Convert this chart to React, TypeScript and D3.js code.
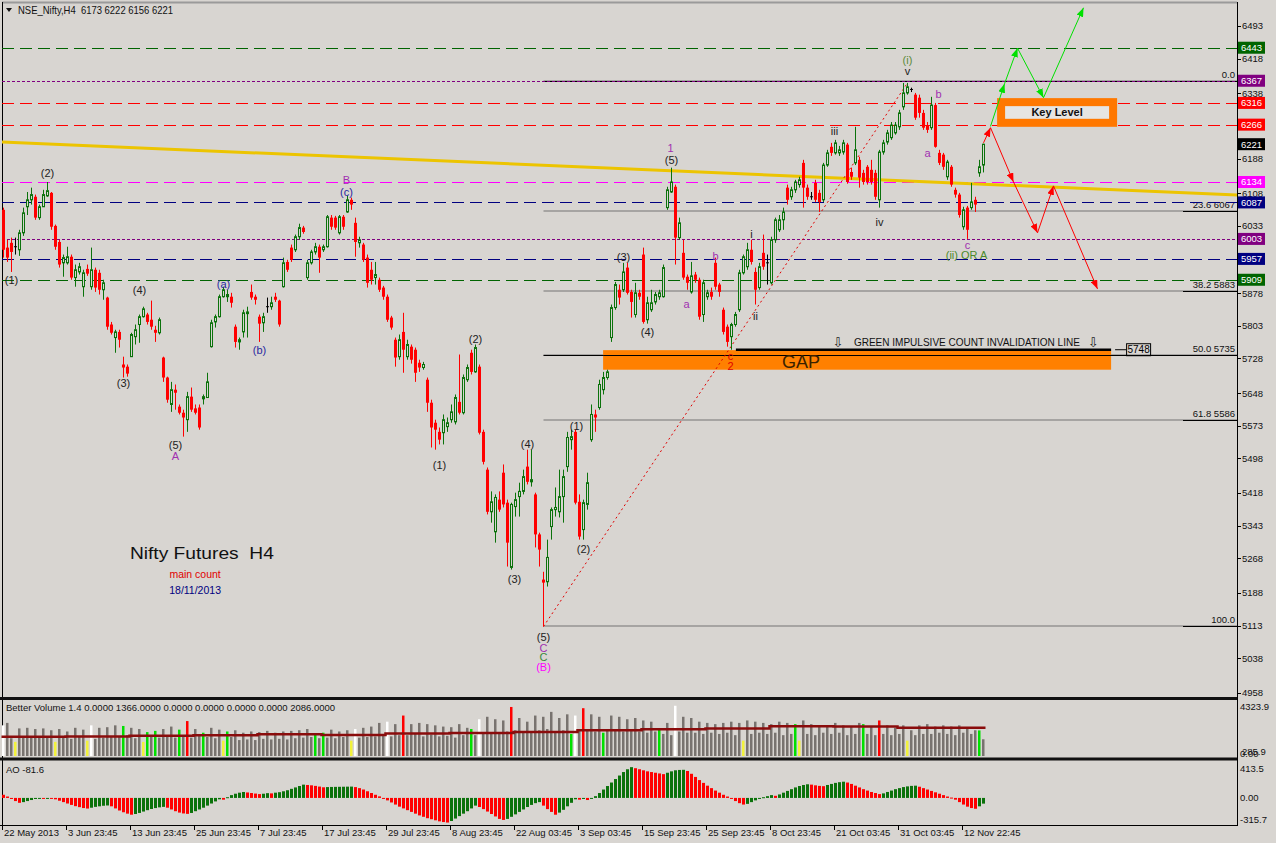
import React from 'react';
import * as d3 from 'd3';

const W = 1276;
const H = 843;
const BG = '#d8d5d1';
const FONT = 'Liberation Sans, Arial, sans-serif';

// OHLC per H4 bar: [open, high, low, close]
const candles: number[][] = [
[6070,6075,5960,5978],[5983,6001,5950,5960],[5994,6006,5927,5973],[5983,6006,5967,5985],[5978,6024,5964,6017],
[6017,6075,6010,6063],[6077,6111,6058,6093],[6093,6121,6082,6105],[6100,6105,6047,6052],[6052,6082,6047,6077],
[6077,6116,6077,6105],[6102,6134,6100,6114],[6109,6111,6024,6031],[6033,6036,5978,5985],[5996,6001,5937,5944],
[5948,5967,5916,5960],[5948,5985,5944,5962],[5962,5967,5909,5914],[5914,5944,5893,5932],[5927,5948,5921,5939],
[5893,5932,5870,5925],[5934,5944,5918,5923],[5893,5983,5886,5932],[5932,5937,5881,5891],[5925,5932,5875,5886],
[5886,5909,5863,5902],[5868,5870,5794,5801],[5806,5812,5783,5787],[5776,5794,5741,5789],[5789,5794,5753,5771],
[5714,5732,5684,5707],[5709,5714,5686,5693],[5732,5787,5732,5783],[5778,5806,5760,5794],[5806,5829,5764,5824],
[5824,5847,5822,5842],[5829,5833,5806,5812],[5817,5861,5794,5801],[5794,5803,5766,5787],[5787,5822,5783,5817],
[5730,5732,5674,5684],[5684,5686,5626,5633],[5622,5674,5605,5656],[5656,5668,5610,5649],[5617,5622,5599,5603],
[5603,5610,5548,5592],[5587,5651,5559,5640],[5640,5661,5605,5610],[5613,5622,5599,5603],[5615,5622,5564,5569],
[5635,5645,5622,5640],[5638,5695,5638,5674],[5755,5817,5753,5810],[5812,5829,5799,5824],[5824,5875,5822,5870],
[5870,5893,5868,5886],[5870,5886,5858,5875],[5870,5879,5845,5856],[5801,5806,5753,5766],[5766,5776,5748,5771],
[5789,5840,5776,5833],[5831,5847,5776,5835],[5881,5898,5863,5868],[5870,5875,5852,5863],[5824,5829,5766,5808],
[5810,5833,5789,5824],[5847,5868,5833,5845],[5847,5870,5840,5856],[5870,5879,5858,5863],[5861,5863,5801,5806],
[5893,5960,5891,5948],[5950,5955,5927,5932],[5983,5990,5950,5955],[5978,6013,5973,6008],[6008,6038,6001,6029],
[6029,6033,6015,6019],[5914,5955,5909,5948],[5948,5978,5944,5973],[5973,5994,5967,5985],[5985,5990,5925,5960],
[5978,5990,5973,5985],[5985,6058,5983,6054],[6052,6058,6024,6031],[6052,6056,6024,6029],[6017,6058,6013,6054],
[6054,6058,6024,6031],[6065,6102,6063,6093],[6093,6098,6070,6082],[6040,6052,5962,5996],[5994,6008,5983,6001],
[5990,5994,5950,5955],[5960,5967,5891,5902],[5932,5950,5898,5909],[5914,5950,5898,5921],[5909,5914,5881,5886],
[5891,5895,5863,5870],[5870,5875,5812,5817],[5822,5826,5794,5799],[5771,5776,5709,5730],[5732,5783,5725,5771],
[5789,5833,5695,5748],[5732,5771,5725,5760],[5755,5760,5716,5725],[5748,5753,5674,5695],[5718,5725,5697,5707],
[5707,5720,5702,5714],[5679,5684,5605,5626],[5626,5633,5523,5569],[5580,5587,5518,5564],[5559,5569,5530,5541],
[5557,5599,5530,5587],[5571,5592,5559,5580],[5587,5622,5580,5605],[5582,5645,5576,5638],[5628,5737,5599,5603],
[5603,5691,5599,5684],[5679,5714,5674,5707],[5741,5748,5691,5697],[5697,5760,5695,5753],[5709,5714,5553,5557],
[5559,5564,5484,5490],[5472,5477,5369,5375],[5375,5422,5350,5398],[5329,5415,5304,5408],[5403,5422,5375,5380],
[5465,5484,5385,5392],[5396,5403,5249,5304],[5247,5396,5242,5392],[5387,5419,5364,5403],[5410,5442,5364,5422],
[5422,5472,5415,5456],[5479,5518,5438,5444],[5444,5518,5433,5449],[5415,5419,5293,5323],[5323,5327,5249,5288],
[5219,5237,5111,5212],[5214,5311,5203,5270],[5341,5385,5311,5380],[5380,5431,5364,5385],[5375,5472,5362,5410],
[5410,5472,5350,5456],[5479,5559,5467,5546],[5541,5564,5518,5548],[5559,5564,5392,5396],[5398,5415,5311,5318],
[5334,5403,5311,5396],[5392,5465,5380,5442],[5541,5622,5536,5599],[5599,5610,5559,5592],[5615,5679,5610,5668],
[5656,5697,5645,5684],[5684,5702,5679,5697],[5776,5852,5766,5845],[5845,5904,5840,5898],[5886,5898,5852,5868],
[5886,5948,5881,5927],[5937,5948,5875,5879],[5881,5886,5822,5858],[5829,5902,5822,5879],[5879,5886,5863,5870],
[5967,5983,5808,5812],[5817,5870,5808,5856],[5840,5886,5835,5856],[5858,5881,5852,5875],[5870,5886,5863,5879],
[5870,5944,5868,5937],[6075,6123,6070,6116],[6111,6167,6109,6134],[6123,6128,5944,6006],[6006,6052,6001,6040],
[5971,6001,5909,5914],[5916,5921,5886,5902],[5881,5950,5877,5918],[5921,5927,5902,5909],[5909,5914,5817,5824],
[5829,5909,5812,5902],[5870,5886,5863,5879],[5881,5891,5863,5870],[5948,5960,5886,5893],[5898,5902,5870,5881],
[5840,5845,5783,5789],[5801,5806,5755,5766],[5778,5810,5748,5806],[5806,5835,5801,5829],[5840,5932,5835,5925],
[5925,5967,5921,5962],[5939,5994,5932,5978],[5978,6001,5944,5950],[5927,5937,5852,5886],[5891,5948,5886,5939],
[5971,6013,5932,5939],[5948,5967,5898,5946],[5902,6008,5898,6001],[6001,6052,5994,6047],[6024,6058,6019,6047],
[6047,6075,6024,6065],[6121,6128,6082,6093],[6100,6123,6093,6116],[6116,6139,6109,6134],[6128,6146,6121,6139],
[6178,6185,6075,6121],[6121,6128,6093,6100],[6100,6111,6093,6100],[6132,6139,6088,6093],[6109,6116,6065,6088],
[6093,6178,6088,6173],[6173,6208,6169,6201],[6215,6224,6194,6201],[6201,6231,6197,6224],[6201,6217,6194,6208],
[6203,6231,6197,6224],[6220,6224,6130,6134],[6157,6167,6139,6146],[6178,6261,6173,6208],[6185,6192,6121,6144],
[6155,6162,6128,6134],[6169,6173,6128,6134],[6162,6185,6128,6134],[6155,6162,6093,6100],[6093,6208,6075,6203],
[6203,6231,6197,6224],[6226,6254,6220,6247],[6236,6272,6231,6265],[6247,6272,6243,6265],[6261,6300,6254,6293],
[6307,6362,6300,6339],[6339,6362,6335,6353],[6346,6351,6341,6347],[6335,6339,6277,6282],[6328,6335,6282,6293],
[6293,6300,6254,6259],[6265,6272,6247,6254],[6259,6330,6254,6311],[6311,6316,6213,6215],[6201,6208,6173,6178],
[6197,6201,6162,6169],[6146,6185,6139,6180],[6169,6173,6123,6128],[6116,6121,6098,6105],[6105,6109,6052,6058],
[6031,6077,6024,6070],[6075,6079,6003,6024],[6075,6132,6070,6088],[6093,6100,6065,6082],[6155,6185,6146,6169],
[6173,6222,6156,6221]
];

const volumes: number[] = [
2500,2700,1450,1150,2250,1500,2300,1550,2200,1600,2250,1500,2100,1150,2200,1550,
2000,1400,2300,1600,2150,1250,2500,1400,2300,1500,2350,1600,2500,1550,2450,1700,
2300,1450,2200,1150,1950,1600,2050,1500,2200,1650,2400,1500,2150,1600,2850,1500,
2200,1650,1900,1550,2300,1450,2150,1250,2000,1550,2100,1300,1900,1350,2000,1300,
1950,1400,2050,1350,1900,1400,2000,1350,2050,1450,2100,1500,2200,1550,1750,1450,
1900,1500,2150,1450,2000,1550,2100,1250,2200,1500,2300,1550,2400,1600,2700,1650,
2800,1600,2600,1700,3300,1700,2600,1800,2700,1600,2600,1750,2500,1600,2400,1650,
2350,1500,2600,1700,2300,2200,1700,3000,1900,3200,1800,3000,1900,2900,2000,4000,
2100,3100,1900,2800,2000,3300,2100,3200,2200,3600,2000,3100,2100,3400,1800,3300,
2100,3900,2100,3400,2000,3200,1900,2200,3300,2100,3200,2000,3000,2200,3100,2000,
2900,1900,2800,2000,2200,1800,2700,1700,4100,2000,3200,1900,3100,1900,2800,1800,
2700,1900,2600,1800,2700,1900,2800,1700,2700,1250,2900,1800,2800,1900,2700,1800,
2600,1900,2800,1700,2700,1800,2600,1250,2900,1800,2600,1700,2500,1900,2400,1800,
2700,1900,2500,1700,2400,1800,2700,2600,1800,2400,1700,2900,1800,2500,1700,2300,
1800,2500,1250,2100,1700,2500,1800,2600,1800,2400,1900,2500,1800,2400,1700,2500,
1900,2300,1800,2100,2086,1366
];

const volWhite = [0, 22, 88, 96, 119, 143, 168];
const volYellow = [3, 13, 21, 35, 55, 87, 185, 199, 226];
const volGreen = [30, 36, 38, 44, 50, 56, 78, 80, 117, 142, 150, 164, 198, 215, 244];
const volRed = [46, 100, 127, 145, 219];

// average volume per 16-bar block
const volAvg = [1572, 1600, 1650, 1700, 1780, 1720, 1835, 1870, 1950, 2100, 2175, 2250, 2437, 2400, 2300, 2300];

const aoValues: number[] = [
45,20,-15,-45,-70,-60,-45,-30,-15,-5,-8,-2,-6,-20,-40,-60,
-80,-100,-118,-132,-145,-152,-140,-128,-120,-112,-108,-120,-150,-180,-205,-225,
-240,-230,-215,-195,-175,-158,-145,-135,-128,-140,-165,-190,-210,-222,-228,-215,
-190,-165,-140,-110,-80,-50,-20,-25,10,40,60,75,85,78,70,62,
55,60,68,65,75,82,95,110,130,150,170,190,185,180,172,162,
152,155,157,158,159,160,161,162,155,140,120,95,70,45,22,-5,
-35,-65,-95,-125,-150,-175,-200,-225,-250,-270,-290,-305,-320,-335,-345,-352,
-330,-295,-260,-225,-190,-150,-110,-130,-160,-195,-230,-265,-300,-315,-300,-270,
-235,-200,-165,-130,-100,-75,-60,-110,-160,-200,-240,-210,-170,-120,-70,-20,
-25,-15,-30,-5,25,70,120,170,220,270,320,370,410,440,425,410,
395,380,370,360,350,340,360,380,395,400,402,385,345,300,255,215,
175,140,105,75,45,20,-10,-45,-75,-95,-85,-60,-35,-10,10,25,
40,30,50,75,100,125,150,170,185,195,190,180,172,168,185,200,
215,225,232,220,200,175,150,125,105,85,70,55,65,85,105,125,
140,155,165,172,175,160,140,120,100,80,60,40,20,5,-25,-60,
-95,-125,-145,-155,-120,-81.6
];

const xLabels = ['22 May 2013', '3 Jun 23:45', '13 Jun 23:45', '25 Jun 23:45', '7 Jul 23:45', '17 Jul 23:45',
  '29 Jul 23:45', '8 Aug 23:45', '22 Aug 03:45', '3 Sep 03:45', '15 Sep 23:45', '25 Sep 23:45',
  '8 Oct 23:45', '21 Oct 03:45', '31 Oct 03:45', '12 Nov 22:45'];

const priceTicks = [6493, 6418, 6338, 6188, 6108, 6033, 5878, 5803, 5728, 5648, 5573, 5498, 5418, 5343, 5268, 5188, 5113, 5038, 4958];

const levelPrices = [6443, 6367, 6316, 6266, 6134, 6087, 6003, 5957, 5909];
const levelColors = ['#006400', '#800080', '#ff0000', '#ff0000', '#ff00ff', '#000080', '#800080', '#000080', '#006400'];
const levelDash = ['12,6', '3,2', '12,6', '12,6', '12,6', '12,6', '3,2', '12,6', '12,6'];

const fibRatios = ['0.0', '23.6 6067', '38.2 5883', '50.0 5735', '61.8 5586', '100.0'];
const fibPrices = [6367, 6067, 5883, 5735, 5586, 5113];

// trend line endpoints [bar index, price]
const yellowLine = [[-0.375, 6226], [308.4, 6104]];
const waveLine = [[135, 5111], [226, 6362]];

const greenPath = [[246.75, 6262], [250.25, 6360], [253.5, 6442], [260, 6328], [270, 6535]];
const redPath = [[245, 6224], [246.75, 6259], [252.5, 6134], [258.5, 6017], [262.5, 6125], [273.5, 5888]];

// wave labels: [bar, price, text, color]
const waveLabels: [number, number, string, string][] = [
  [2, 5907, '(1)', '#222'], [11, 6155, '(2)', '#222'], [30, 5670, '(3)', '#222'], [34, 5884, '(4)', '#222'],
  [43, 5529, '(5)', '#222'], [43, 5503, 'A', '#a030b0'], [55, 5898, '(a)', '#2828a0'], [64, 5746, '(b)', '#2828a0'],
  [85.75, 6139, 'B', '#a030b0'], [85.75, 6111, '(c)', '#2828a0'], [109, 5483, '(1)', '#222'], [118, 5773, '(2)', '#222'],
  [127.75, 5221, '(3)', '#222'], [131, 5530, '(4)', '#222'], [135, 5086, '(5)', '#222'], [135, 5062, 'C', '#a030b0'],
  [135, 5041, 'C', '#3a8a3a'], [135, 5017, '(B)', '#ff00ff'], [143.25, 5573, '(1)', '#222'], [145, 5290, '(2)', '#222'],
  [155, 5960, '(3)', '#222'], [161, 5789, '(4)', '#222'], [166.75, 6212, '1', '#a030b0'], [167, 6185, '(5)', '#222'],
  [170.75, 5854, 'a', '#a030b0'], [178, 5964, 'b', '#a030b0'], [181.75, 5733, 'c', '#e00000'], [181.75, 5711, '2', '#e00000'],
  [187, 6015, 'i', '#222'], [188, 5826, 'ii', '#222'], [207.75, 6252, 'iii', '#222'], [219, 6042, 'iv', '#222'],
  [226, 6415, '(i)', '#5a8a3a'], [226, 6388, 'v', '#222'], [233.75, 6337, 'b', '#a030b0'], [231, 6201, 'a', '#a030b0'],
  [241, 5989, 'c', '#a030b0'], [240.75, 5966, '(ii) OR A', '#4a8a2a']
];

const gapBox = [149.9, 276.9, 5747, 5702];
const invalidLine = [183.1, 276.9, 5748];
const keyBox = [248.4, 278.4, 6327, 6261];

export default function App() {
  const x = d3.scaleLinear().domain([0, 245]).range([3.5, 983.5]);
  const y = d3.scaleLinear().domain([4958, 6493]).range([693, 26]);
  const yv = d3.scaleLinear().domain([0, 4323.9]).range([756, 703]);
  const ya = d3.scaleLinear().domain([-315.7, 413.5]).range([820, 769]);
  const AX = 1237;

  const volColor = (i: number) =>
    volRed.includes(i) ? '#ff0000' : volGreen.includes(i) ? '#00e000' : volYellow.includes(i) ? '#f2f23c' : volWhite.includes(i) ? '#ffffff' : '#78736f';

  const avgPts: [number, number][] = [];
  volAvg.forEach((v, k) => {
    avgPts.push([x(k * 16) - 2, yv(v)]);
  });
  avgPts.push([x(245) + 2, yv(volAvg[volAvg.length - 1])]);
  const avgPath = d3.line().curve(d3.curveStepAfter)(avgPts) || '';

  const kx0 = x(keyBox[0]), kx1 = x(keyBox[1]), ky0 = y(keyBox[2]), ky1 = y(keyBox[3]);
  const gx0 = x(gapBox[0]), gx1 = x(gapBox[1]);

  return (
    <svg width={W} height={H} style={{ position: 'absolute', left: 0, top: 0, background: BG }} fontFamily={FONT}>
      <defs>
        <marker id="ag" markerWidth="9" markerHeight="7" refX="9" refY="3.5" orient="auto" markerUnits="userSpaceOnUse">
          <path d="M0,0 L9,3.5 L0,7 z" fill="#00e000" />
        </marker>
        <marker id="ar" markerWidth="9" markerHeight="7" refX="9" refY="3.5" orient="auto" markerUnits="userSpaceOnUse">
          <path d="M0,0 L9,3.5 L0,7 z" fill="#ff0000" />
        </marker>
        <clipPath id="main"><rect x={2} y={2} width={AX - 2} height={695} /></clipPath>
      </defs>
      <rect x={0} y={0} width={W} height={H} fill={BG} />

      {/* frame */}
      <line x1={2} x2={AX} y1={2.5} y2={2.5} stroke="#9a9a9a" strokeWidth={2} />
      <line x1={2.5} x2={2.5} y1={2} y2={826} stroke="#000" />
      <line x1={AX + 0.5} x2={AX + 0.5} y1={2} y2={826} stroke="#000" />
      <line x1={0} x2={AX} y1={698.5} y2={698.5} stroke="#111" strokeWidth={3} />
      <line x1={0} x2={AX} y1={759} y2={759} stroke="#111" strokeWidth={3} />
      <line x1={0} x2={AX} y1={825.5} y2={825.5} stroke="#000" />

      <g clipPath="url(#main)">
        {/* fibonacci levels */}
        {fibPrices.map((p, k) => (
          <g key={'f' + k}>
            <line x1={x(135)} x2={AX} y1={Math.round(y(p))} y2={Math.round(y(p))} stroke="#a6a4a2" strokeWidth={2} />
            <line x1={k === 0 || k === 3 ? x(135) : AX - 54} x2={AX} y1={Math.round(y(p)) + 0.5} y2={Math.round(y(p)) + 0.5} stroke="#000" />
            <text x={AX - 2} y={Math.round(y(p)) - 3} fontSize={9.5} textAnchor="end" fill="#111">{fibRatios[k]}</text>
          </g>
        ))}

        {/* horizontal levels */}
        {levelPrices.map((p, k) => (
          <line key={'l' + k} x1={2} x2={AX} y1={Math.round(y(p)) + 0.5} y2={Math.round(y(p)) + 0.5}
            stroke={levelColors[k]} strokeDasharray={levelDash[k]} strokeWidth={1.2} />
        ))}

        {/* yellow trendline */}
        <line x1={x(yellowLine[0][0])} y1={y(yellowLine[0][1])} x2={x(yellowLine[1][0])} y2={y(yellowLine[1][1])}
          stroke="#ecc400" strokeWidth={3} />

        {/* GAP box */}
        <rect x={gx0} y={y(gapBox[2])} width={gx1 - gx0} height={y(gapBox[3]) - y(gapBox[2])} fill="#ff8000" />
        <line x1={gx0} x2={AX} y1={Math.round(y(5735)) + 0.5} y2={Math.round(y(5735)) + 0.5} stroke="#000" />
        <line x1={x(invalidLine[0])} x2={x(invalidLine[1])} y1={y(invalidLine[2])} y2={y(invalidLine[2])} stroke="#000" strokeWidth={2.5} />
        <text x={x(194.6)} y={y(5720)} dy="0.35em" fontSize={18} fill="#3a2200">GAP</text>
        <line x1={gx1 + 4} x2={gx1 + 15} y1={y(5748)} y2={y(5748)} stroke="#000" />
        <rect x={gx1 + 15.5} y={y(5748) - 6} width={24} height={12} fill="none" stroke="#000" />
        <text x={gx1 + 27.5} y={y(5748)} dy="0.35em" fontSize={10} textAnchor="middle" fill="#000">5748</text>
        <text x={x(212.6)} y={y(5764)} dy="0.35em" fontSize={10} fill="#111" textLength={226} lengthAdjust="spacingAndGlyphs">GREEN IMPULSIVE COUNT INVALIDATION LINE</text>
        <text x={x(208.6)} y={y(5764)} dy="0.35em" fontSize={13} textAnchor="middle" fill="#222" fontFamily="DejaVu Sans">⇩</text>
        <text x={x(272.4)} y={y(5764)} dy="0.35em" fontSize={13} textAnchor="middle" fill="#222" fontFamily="DejaVu Sans">⇩</text>

        {/* red dotted wave line */}
        <line x1={x(waveLine[0][0])} y1={y(waveLine[0][1])} x2={x(waveLine[1][0])} y2={y(waveLine[1][1])}
          stroke="#e00000" strokeDasharray="2,3" strokeWidth={1} />

        {/* candles */}
        {candles.map((c, i) => {
          const [o, h, l, cl] = c;
          const cx = x(i);
          const doji = Math.abs(cl - o) < 3;
          const up = cl > o;
          const col = doji ? '#000' : up ? '#0b720b' : '#ff0000';
          const top = y(Math.max(o, cl));
          const bot = y(Math.min(o, cl));
          return (
            <g key={'c' + i}>
              <line x1={cx} x2={cx} y1={y(h)} y2={y(l)} stroke={col} strokeWidth={1} />
              {doji ? (
                <line x1={cx - 1.5} x2={cx + 1.5} y1={top} y2={top} stroke="#000" />
              ) : up ? (
                <rect x={cx - 1} y={top} width={2} height={Math.max(1, bot - top)} fill={BG} stroke={col} strokeWidth={1} />
              ) : (
                <rect x={cx - 1.5} y={top} width={3} height={Math.max(1, bot - top)} fill={col} />
              )}
            </g>
          );
        })}

        {/* Key level box */}
        <rect x={kx0 + 4} y={ky0 + 4} width={kx1 - kx0 - 8} height={ky1 - ky0 - 8} fill="#e6e5e3" stroke="#ff7800" strokeWidth={8} />
        <text x={(kx0 + kx1) / 2} y={(ky0 + ky1) / 2} dy="0.35em" fontSize={11} fontWeight="bold" textAnchor="middle" fill="#111">Key Level</text>

        {/* projection arrows */}
        {greenPath.slice(1).map((p, k) => (
          <line key={'g' + k} x1={x(greenPath[k][0])} y1={y(greenPath[k][1])} x2={x(p[0])} y2={y(p[1])}
            stroke="#00e000" strokeWidth={1} markerEnd="url(#ag)" />
        ))}
        {redPath.slice(1).map((p, k) => (
          <line key={'r' + k} x1={x(redPath[k][0])} y1={y(redPath[k][1])} x2={x(p[0])} y2={y(p[1])}
            stroke="#ff0000" strokeWidth={1} markerEnd="url(#ar)" />
        ))}

        {/* wave labels */}
        {waveLabels.map(([b, p, t, col], k) => (
          <text key={'w' + k} x={x(b)} y={y(p)} dy="0.35em" fontSize={11} textAnchor="middle" fill={col}>{t}</text>
        ))}

        <text x={x(31.6)} y={y(5281)} dy="0.35em" fontSize={17} fill="#111" xmlSpace="preserve" style={{ whiteSpace: 'pre' }}
          textLength={144} lengthAdjust="spacingAndGlyphs">{'Nifty Futures  H4'}</text>
        <text x={x(47.9)} y={y(5230)} dy="0.35em" fontSize={10.5} textAnchor="middle" fill="#e00000">main count</text>
        <text x={x(47.9)} y={y(5194)} dy="0.35em" fontSize={10.5} textAnchor="middle" fill="#000080">18/11/2013</text>
      </g>

      {/* header */}
      <path d="M6,8 L12,8 L9,12 z" fill="#111" />
      <text x={18} y={10} dy="0.35em" fontSize={10.5} fill="#111" style={{ whiteSpace: 'pre' }}
        textLength={155} lengthAdjust="spacingAndGlyphs">{'NSE_Nifty,H4  6173 6222 6156 6221'}</text>

      {/* price axis */}
      {priceTicks.map((p) => (
        <g key={'t' + p}>
          <line x1={AX} x2={AX + 4} y1={Math.round(y(p)) + 0.5} y2={Math.round(y(p)) + 0.5} stroke="#000" />
          <text x={AX + 5} y={y(p)} dy="0.35em" fontSize={9.5} fill="#111">{p}</text>
        </g>
      ))}
      {levelPrices.map((p, k) => (
        <g key={'b' + k}>
          <rect x={AX + 1} y={y(p) - 6} width={27} height={12} fill={levelColors[k]} />
          <text x={AX + 4} y={y(p)} dy="0.35em" fontSize={9.5} fill="#fff">{p}</text>
        </g>
      ))}
      <rect x={AX + 1} y={y(6221) - 6} width={27} height={12} fill="#000" />
      <text x={AX + 4} y={y(6221)} dy="0.35em" fontSize={9.5} fill="#fff">6221</text>

      {/* volume panel */}
      {volumes.map((v, i) => (
        <rect key={'v' + i} x={Math.floor(x(i)) - 1} y={yv(v)} width={2.5} height={756 - yv(v)} fill={volColor(i)} />
      ))}
      <path d={avgPath} fill="none" stroke="#8a0c0c" strokeWidth={2.5} />
      <text x={6} y={708} dy="0.35em" fontSize={9.5} fill="#111">Better Volume 1.4 0.0000 1366.0000 0.0000 0.0000 0.0000 0.0000 2086.0000</text>
      <text x={AX + 3} y={707} dy="0.35em" fontSize={9.5} fill="#111">4323.9</text>
      <text x={AX + 5} y={752} dy="0.35em" fontSize={9.5} fill="#111">285.9</text>
      <text x={AX + 3} y={754} dy="0.35em" fontSize={9.5} fill="#111">0.00</text>

      {/* AO panel */}
      {aoValues.map((v, i) => {
        const prev = i > 0 ? aoValues[i - 1] : v + 1;
        const col = v > prev ? '#0b720b' : '#ff0000';
        const y0 = ya(0), y1 = ya(v);
        return <rect key={'a' + i} x={Math.floor(x(i)) - 1} y={Math.min(y0, y1)} width={3} height={Math.max(1, Math.abs(y1 - y0))} fill={col} />;
      })}
      <text x={6} y={770} dy="0.35em" fontSize={9.5} fill="#111">AO -81.6</text>
      <text x={AX + 3} y={ya(413.5)} dy="0.35em" fontSize={9.5} fill="#111">413.5</text>
      <text x={AX + 3} y={ya(0)} dy="0.35em" fontSize={9.5} fill="#111">0.00</text>
      <text x={AX + 3} y={ya(-315.7)} dy="0.35em" fontSize={9.5} fill="#111">-315.7</text>

      {/* time axis */}
      {xLabels.map((t, k) => (
        <g key={'x' + k}>
          <line x1={Math.floor(x(k * 16)) - 0.5} x2={Math.floor(x(k * 16)) - 0.5} y1={826} y2={830} stroke="#000" />
          <text x={Math.floor(x(k * 16)) + 1} y={833} dy="0.35em" fontSize={9.5} fill="#111">{t}</text>
        </g>
      ))}
    </svg>
  );
}
